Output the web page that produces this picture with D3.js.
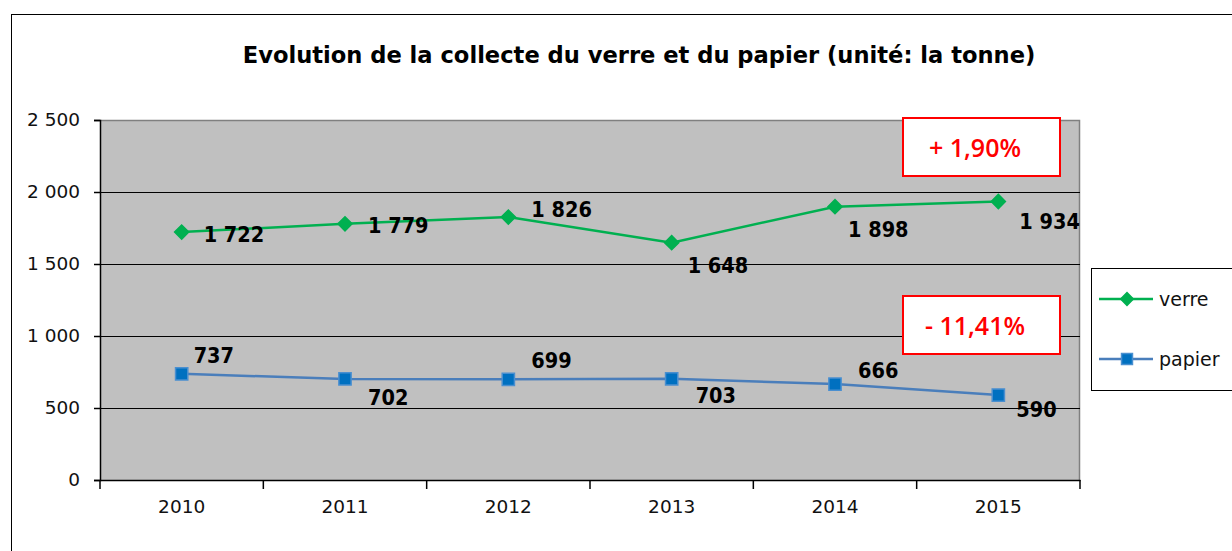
<!DOCTYPE html>
<html>
<head>
<meta charset="utf-8">
<script src="https://cdn.jsdelivr.net/npm/d3@7"></script>
<style>
  body { margin: 0; background: #fff; }
  svg { display: block; }
</style>
</head>
<body>
<div class="canvas"></div>
<script>
// data
const years = ['2010', '2011', '2012', '2013', '2014', '2015'];
const verre = [1722, 1779, 1826, 1648, 1898, 1934];
const papier = [737, 702, 699, 703, 666, 590];
const yTicks = [0, 500, 1000, 1500, 2000, 2500];
const evolutions = ['+ 1,90%', '- 11,41%'];

// label offsets (left x, centre y) from each point
const verreOffsets = [[22, 2], [23, 2], [23, -8], [16, 23], [13, 23], [21, 20]];
const papierOffsets = [[12, -18], [23, 19], [23, -19], [24, 17], [23, -14], [18, 14]];

const margin = { top: 120, right: 152, bottom: 71, left: 100 };
const width = 1232, height = 551;
const graphWidth = width - margin.left - margin.right;
const graphHeight = height - margin.top - margin.bottom;

const svg = d3.select('.canvas')
  .append('svg')
   .attr('width', width)
   .attr('height', height);

// outer frame
svg.append('rect')
  .attr('x', 11.5).attr('y', 14.5)
  .attr('width', 1240).attr('height', 560)
  .attr('fill', 'none').attr('stroke', '#000');

svg.append('text')
  .attr('x', 639).attr('y', 55)
  .attr('text-anchor', 'middle')
  .attr('dominant-baseline', 'central')
  .style('font-family', 'DejaVu Sans')
  .style('font-weight', 'bold')
  .style('font-size', '22.6px')
  .text('Evolution de la collecte du verre et du papier (unité: la tonne)');

const graph = svg.append('g')
  .attr('transform', `translate(${margin.left}, ${margin.top})`);

const x = d3.scaleBand().domain(years).range([0, graphWidth]);
const y = d3.scaleLinear().domain([0, 2500]).range([graphHeight, 0]);
const cx = d => x(d) + x.bandwidth() / 2;

// plot area
graph.append('rect')
  .attr('width', graphWidth).attr('height', graphHeight)
  .attr('fill', '#c0c0c0');
graph.append('path')
  .attr('d', `M0,0.5H${graphWidth - 0.5}V${graphHeight}`)
  .attr('fill', 'none').attr('stroke', '#808080').attr('stroke-width', 1.5);

// gridlines
graph.selectAll('.grid')
  .data(yTicks.filter(t => t > 0 && t < 2500))
  .enter().append('line')
   .attr('x1', 0).attr('x2', graphWidth)
   .attr('y1', d => Math.round(y(d)) + 0.5).attr('y2', d => Math.round(y(d)) + 0.5)
   .attr('stroke', '#000');

// axes
const fmt = d3.formatLocale({ decimal: ',', thousands: ' ', grouping: [3] }).format(',');
const yAxisGroup = graph.append('g')
  .call(d3.axisLeft(y).tickValues(yTicks).tickSize(6).tickPadding(14).tickFormat(fmt));
const xAxisGroup = graph.append('g')
  .attr('transform', `translate(0, ${graphHeight})`)
  .call(d3.axisBottom(x).tickSize(0).tickPadding(20));

[xAxisGroup, yAxisGroup].forEach(g => {
  g.select('.domain').attr('stroke', '#000').attr('stroke-width', 1.5);
  g.selectAll('line').attr('stroke', '#000').attr('stroke-width', 1.5);
  g.selectAll('text')
   .attr('fill', '#111')
   .style('font-family', 'DejaVu Sans')
   .style('font-size', '18.5px');
});

// category boundary ticks
graph.selectAll('.xtick')
  .data(years.map(d => x(d)).concat([graphWidth]))
  .enter().append('line')
   .attr('x1', d => d).attr('x2', d => d)
   .attr('y1', graphHeight).attr('y2', graphHeight + 9)
   .attr('stroke', '#000').attr('stroke-width', 1.5);

const series = [
  { name: 'verre', values: verre, offsets: verreOffsets, line: '#00b050', fill: '#00b050', stroke: '#00b050', rotate: 45, size: 100 },
  { name: 'papier', values: papier, offsets: papierOffsets, line: '#4a7ebb', fill: '#0070c0', stroke: '#4a8fd0', rotate: 0, size: 150 }
];

series.forEach(s => {
  const line = d3.line()
    .x((d, i) => cx(years[i]))
    .y(d => y(d));
  graph.append('path')
    .datum(s.values)
    .attr('d', line)
    .attr('fill', 'none')
    .attr('stroke', s.line)
    .attr('stroke-width', 2.5);

  graph.selectAll('.m-' + s.name)
    .data(s.values)
    .enter().append('path')
     .attr('d', d3.symbol(d3.symbolSquare, s.size))
     .attr('transform', (d, i) => `translate(${cx(years[i])}, ${y(d)}) rotate(${s.rotate})`)
     .attr('fill', s.fill)
     .attr('stroke', s.stroke)
     .attr('stroke-width', 1.5);

  graph.selectAll('.l-' + s.name)
    .data(s.values)
    .enter().append('text')
     .attr('x', (d, i) => cx(years[i]) + s.offsets[i][0])
     .attr('y', (d, i) => y(d) + s.offsets[i][1])
     .attr('dominant-baseline', 'central')
     .style('font-family', 'DejaVu Sans Condensed')
     .style('font-weight', 'bold')
     .style('font-size', '21.5px')
     .text(d => fmt(d));
});

// evolution boxes
const boxes = graph.selectAll('.evo')
  .data(evolutions)
  .enter().append('g')
   .attr('transform', (d, i) => `translate(${803}, ${i === 0 ? -2 : 176})`);
boxes.append('rect')
  .attr('width', 157).attr('height', 58)
  .attr('fill', '#fff').attr('stroke', '#ff0000').attr('stroke-width', 2);
boxes.append('text')
  .attr('x', 72).attr('y', 29)
  .attr('text-anchor', 'middle')
  .attr('dominant-baseline', 'central')
  .attr('fill', '#ff0000')
  .style('font-family', 'Open Sans')
  .style('font-weight', '600')
  .style('font-size', '25px')
  .text(d => d);

// legend
const legend = svg.append('g').attr('transform', 'translate(1091, 268)');
legend.append('rect')
  .attr('x', 0.5).attr('y', 0.5).attr('width', 160).attr('height', 122)
  .attr('fill', '#fff').attr('stroke', '#000');
const items = legend.selectAll('.item')
  .data(series)
  .enter().append('g')
   .attr('transform', (d, i) => `translate(0, ${i === 0 ? 31 : 91})`);
items.append('line')
  .attr('x1', 8).attr('x2', 62)
  .attr('stroke', d => d.line).attr('stroke-width', 2.5);
items.append('path')
  .attr('d', d => d3.symbol(d3.symbolSquare, d.size * 0.8)())
  .attr('transform', d => `translate(36, 0) rotate(${d.rotate})`)
  .attr('fill', d => d.fill).attr('stroke', d => d.stroke).attr('stroke-width', 1.5);
items.append('text')
  .attr('x', 68).attr('y', 0)
  .attr('dominant-baseline', 'central')
  .style('font-family', 'DejaVu Sans')
  .style('font-size', '19px')
  .attr('fill', '#111')
  .text(d => d.name);
</script>
</body>
</html>
